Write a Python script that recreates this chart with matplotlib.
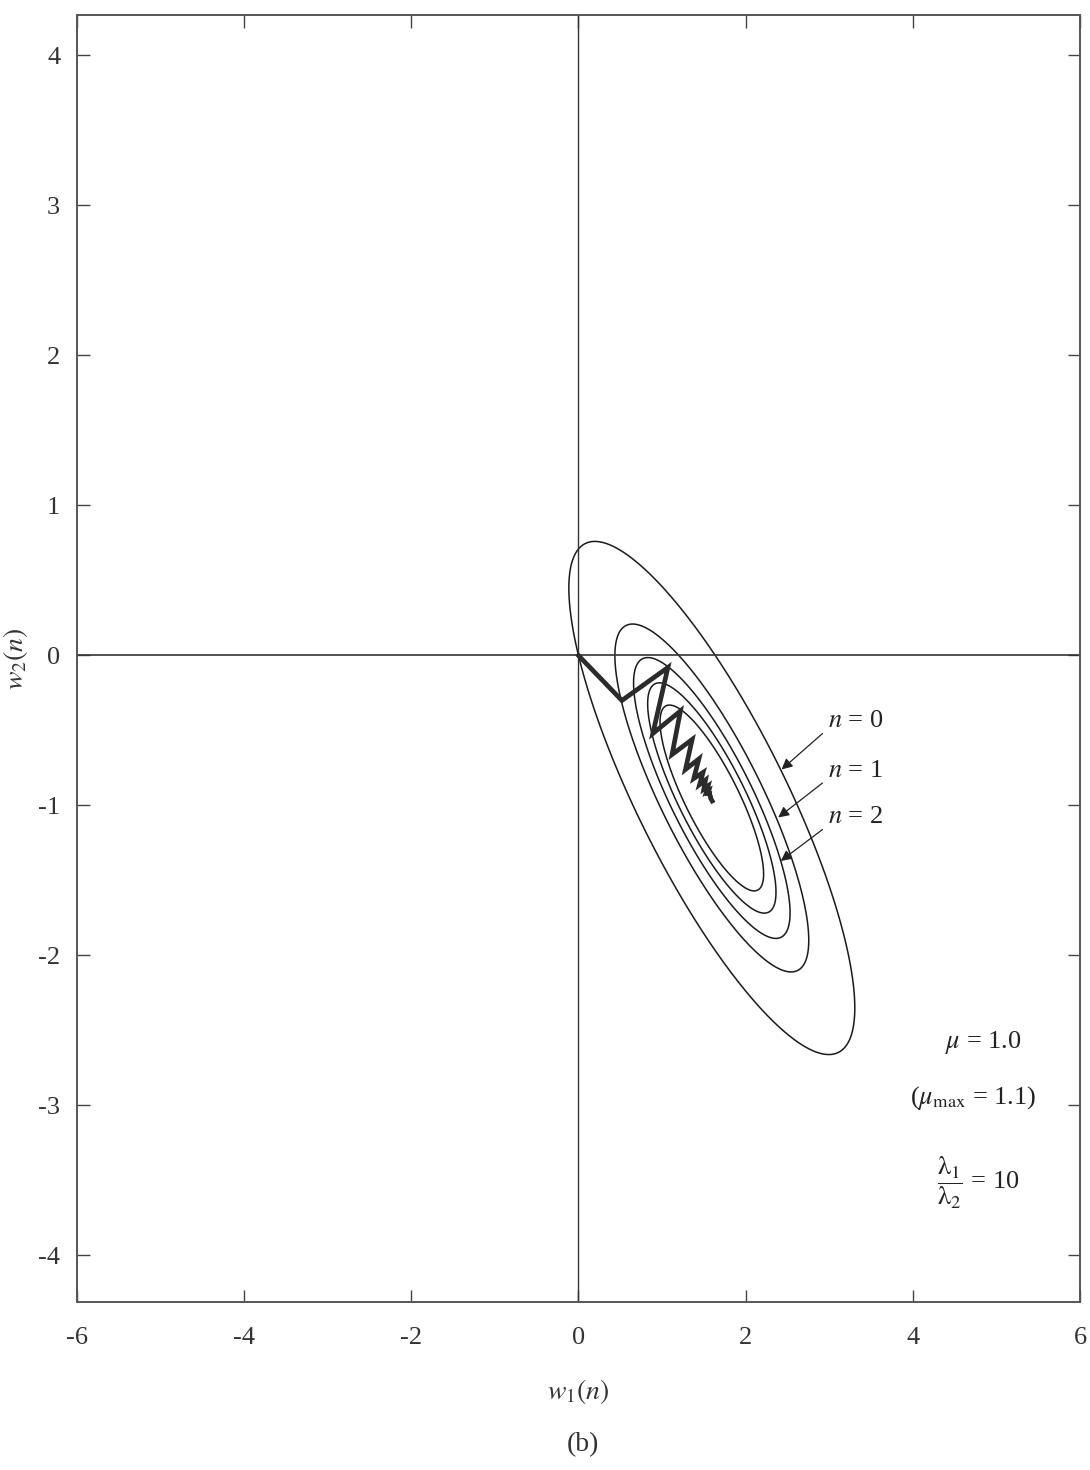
import numpy as np
import matplotlib
matplotlib.use("Agg")
import matplotlib.pyplot as plt

plt.rcParams['font.family'] = ['Liberation Serif', 'DejaVu Serif']
plt.rcParams['mathtext.fontset'] = 'stix'
plt.rcParams['axes.unicode_minus'] = False

# error surface: R = [[r0, r1], [r1, r0]], minimum at w_o
r0, r1 = 1.0, 0.818
w_opt = [1.5955, -0.95]
# contour levels J - Jmin passing through w(0), w(1), ..., w(4)
levels = [0.127, 0.195, 0.29, 0.445, 0.968]

# steepest-descent trajectory, w(0) ... w(22)
w1_path = [0.0, 0.52, 1.07, 0.89, 1.22, 1.12, 1.36, 1.28, 1.44, 1.38, 1.49,
           1.45, 1.52, 1.50, 1.55, 1.53, 1.56, 1.55, 1.57, 1.57, 1.58, 1.58, 1.60]
w2_path = [0.0, -0.30, -0.08, -0.52, -0.37, -0.66, -0.56, -0.76, -0.69, -0.82, -0.78,
           -0.86, -0.83, -0.89, -0.87, -0.91, -0.90, -0.92, -0.92, -0.93, -0.94, -0.95, -0.97]

xticks = [-6, -4, -2, 0, 2, 4, 6]
yticks = [-4, -3, -2, -1, 0, 1, 2, 3, 4]

# labels for the contours: text position, arrow tip
n_labels = ['$n$ = 0', '$n$ = 1', '$n$ = 2']
n_text_xy = [(2.98, -0.44), (2.98, -0.77), (2.98, -1.08)]
n_tip_xy = [(2.43, -0.76), (2.39, -1.08), (2.42, -1.37)]

fig = plt.figure(figsize=(10.9, 14.7), dpi=100)
ax = fig.add_axes([0.0706, 0.1143, 0.9202, 0.8755])

g1, g2 = np.meshgrid(np.linspace(-6, 6, 900), np.linspace(-4.4, 4.4, 900))
v1 = g1 - w_opt[0]
v2 = g2 - w_opt[1]
J = r0 * v1 ** 2 + 2 * r1 * v1 * v2 + r0 * v2 ** 2
ax.contour(g1, g2, J, levels=levels, colors='#1a1a1a', linewidths=1.1)

ax.axhline(0, color='#333333', lw=1.2)
ax.axvline(0, color='#333333', lw=1.0)

ax.plot(w1_path, w2_path, color='#2b2b2b', lw=3.4, solid_joinstyle='miter')

for lab, (tx, ty), (hx, hy) in zip(n_labels, n_text_xy, n_tip_xy):
    ax.annotate('', xy=(hx, hy), xytext=(tx - 0.06, ty - 0.08),
                arrowprops=dict(arrowstyle='-|>', color='#222222', lw=0.9,
                                mutation_scale=16, shrinkA=0, shrinkB=0))
    ax.text(tx, ty, lab, fontsize=19, ha='left', va='center', color='#222222')

ax.text(4.85, -2.58, r'$\mu$ = 1.0', fontsize=19, ha='center', va='center', color='#222222')
ax.text(4.72, -2.95, r'($\mu_{\rm max}$ = 1.1)', fontsize=19, ha='center', va='center', color='#222222')
ax.text(4.78, -3.52, r'$\dfrac{\mathrm{\lambda}_1}{\mathrm{\lambda}_2}$ = 10', fontsize=19,
        ha='center', va='center', color='#222222')

ax.set_xlim(-6, 6)
ax.set_ylim(-4.31, 4.27)
ax.set_xticks(xticks)
ax.set_yticks(yticks)
ax.tick_params(direction='in', length=9, width=1.0, color='#444444',
               labelsize=19, labelcolor='#333333', top=True, right=True)
ax.tick_params(axis='x', pad=18)
ax.tick_params(axis='y', pad=12)
for s in ax.spines.values():
    s.set_color('#555555')
    s.set_linewidth(1.4)

ax.set_xlabel(r'$w_1(n)$', fontsize=20, labelpad=20, color='#333333')
ax.set_ylabel(r'$w_2(n)$', fontsize=20, color='#333333')
ax.yaxis.set_label_coords(-0.047, 0.5)
fig.text(0.535, 0.017, '(b)', fontsize=20, ha='center', va='center', color='#333333')

fig.savefig('out.png', dpi=100)
